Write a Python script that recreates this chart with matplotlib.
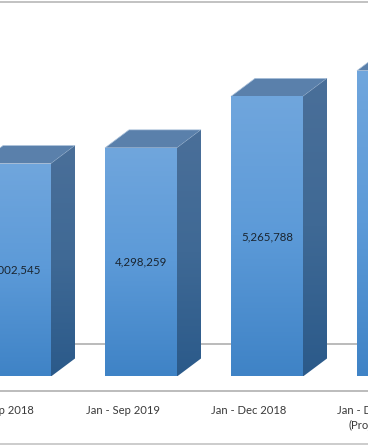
# 3D-look column chart, cropped on both sides like the source image
import matplotlib.pyplot as plt
import numpy as np
from matplotlib.colors import LinearSegmentedColormap
from matplotlib.patches import Polygon

categories = ["Jan - Sep 2018", "Jan - Sep 2019", "Jan - Dec 2018", "Jan - Dec 2019\n(Projected)"]
values = [4002545, 4298259, 5265788, 5750000]
value_labels = ["4,002,545", "4,298,259", "5,265,788", ""]

W, H = 368, 445
per_px = 18800.0  # value units for one pixel of height
base_y = 376.5
step = 126.0
first_x = 15.0
bar_w = 72.0 / step
dx = 24.0 / step
dy = 18.0 * per_px
grid_val = (base_y - 343.5) * per_px

plt.rcParams["font.family"] = ["Lato", "DejaVu Sans"]

front = LinearSegmentedColormap.from_list("front", ["#70a6dd", "#5c9ad8", "#3f83c6"])
side = LinearSegmentedColormap.from_list("side", ["#4a6f99", "#3f6995", "#2b5a8a"])
grad = np.linspace(0, 1, 128).reshape(-1, 1)

fig = plt.figure(figsize=(W / 100, H / 100), dpi=100, facecolor="white")
ax = fig.add_axes([0, 0, 1, 1])
ax.set_xlim(-first_x / step, (W - first_x) / step)
ax.set_ylim((base_y - H) * per_px, base_y * per_px)
ax.axis("off")


def shaded(points, cmap, top, bottom, zorder):
    # gradient image clipped to the face outline
    xs = [p[0] for p in points]
    poly = Polygon(points, closed=True, facecolor="none", edgecolor="none", transform=ax.transData)
    ax.add_patch(poly)
    im = ax.imshow(grad, cmap=cmap, aspect="auto", zorder=zorder,
                   extent=(min(xs), max(xs), bottom, top), origin="upper")
    im.set_clip_path(poly)


# wall line behind the bars, then floor and frame lines
ax.plot(ax.get_xlim(), [grid_val, grid_val], color="#b5b5b5", lw=1.3, zorder=1)
for y_px, c in [(1.5, "#b8b8b8"), (390.5, "#b0b0b0"), (443.5, "#c4c4c4")]:
    y_val = (base_y - y_px) * per_px
    ax.plot(ax.get_xlim(), [y_val, y_val], color=c, lw=1.2, zorder=1)

label_y = (base_y - 404.5) * per_px
for i, v in enumerate(values):
    l = i - bar_w / 2
    r = i + bar_w / 2
    shaded([(l, 0), (r, 0), (r, v), (l, v)], front, v, 0, 4)
    shaded([(r, 0), (r + dx, dy), (r + dx, v + dy), (r, v)], side, v + dy, 0, 3)
    ax.add_patch(Polygon([(l, v), (r, v), (r + dx, v + dy), (l + dx, v + dy)], closed=True,
                         facecolor="#5a80ab", edgecolor="#a9c0da", lw=0.5, zorder=2))
    ax.text(i, v / 2, value_labels[i], ha="center", va="center", fontsize=8.3, color="#1a2530", zorder=5)
    ax.text(i - 18.0 / step, label_y, categories[i], ha="center", va="top",
            fontsize=8.1, color="#3a3a3a", linespacing=1.5, zorder=5)

ax.set_xlim(-first_x / step, (W - first_x) / step)
ax.set_ylim((base_y - H) * per_px, base_y * per_px)
fig.savefig("out.png", dpi=100, facecolor="white")
